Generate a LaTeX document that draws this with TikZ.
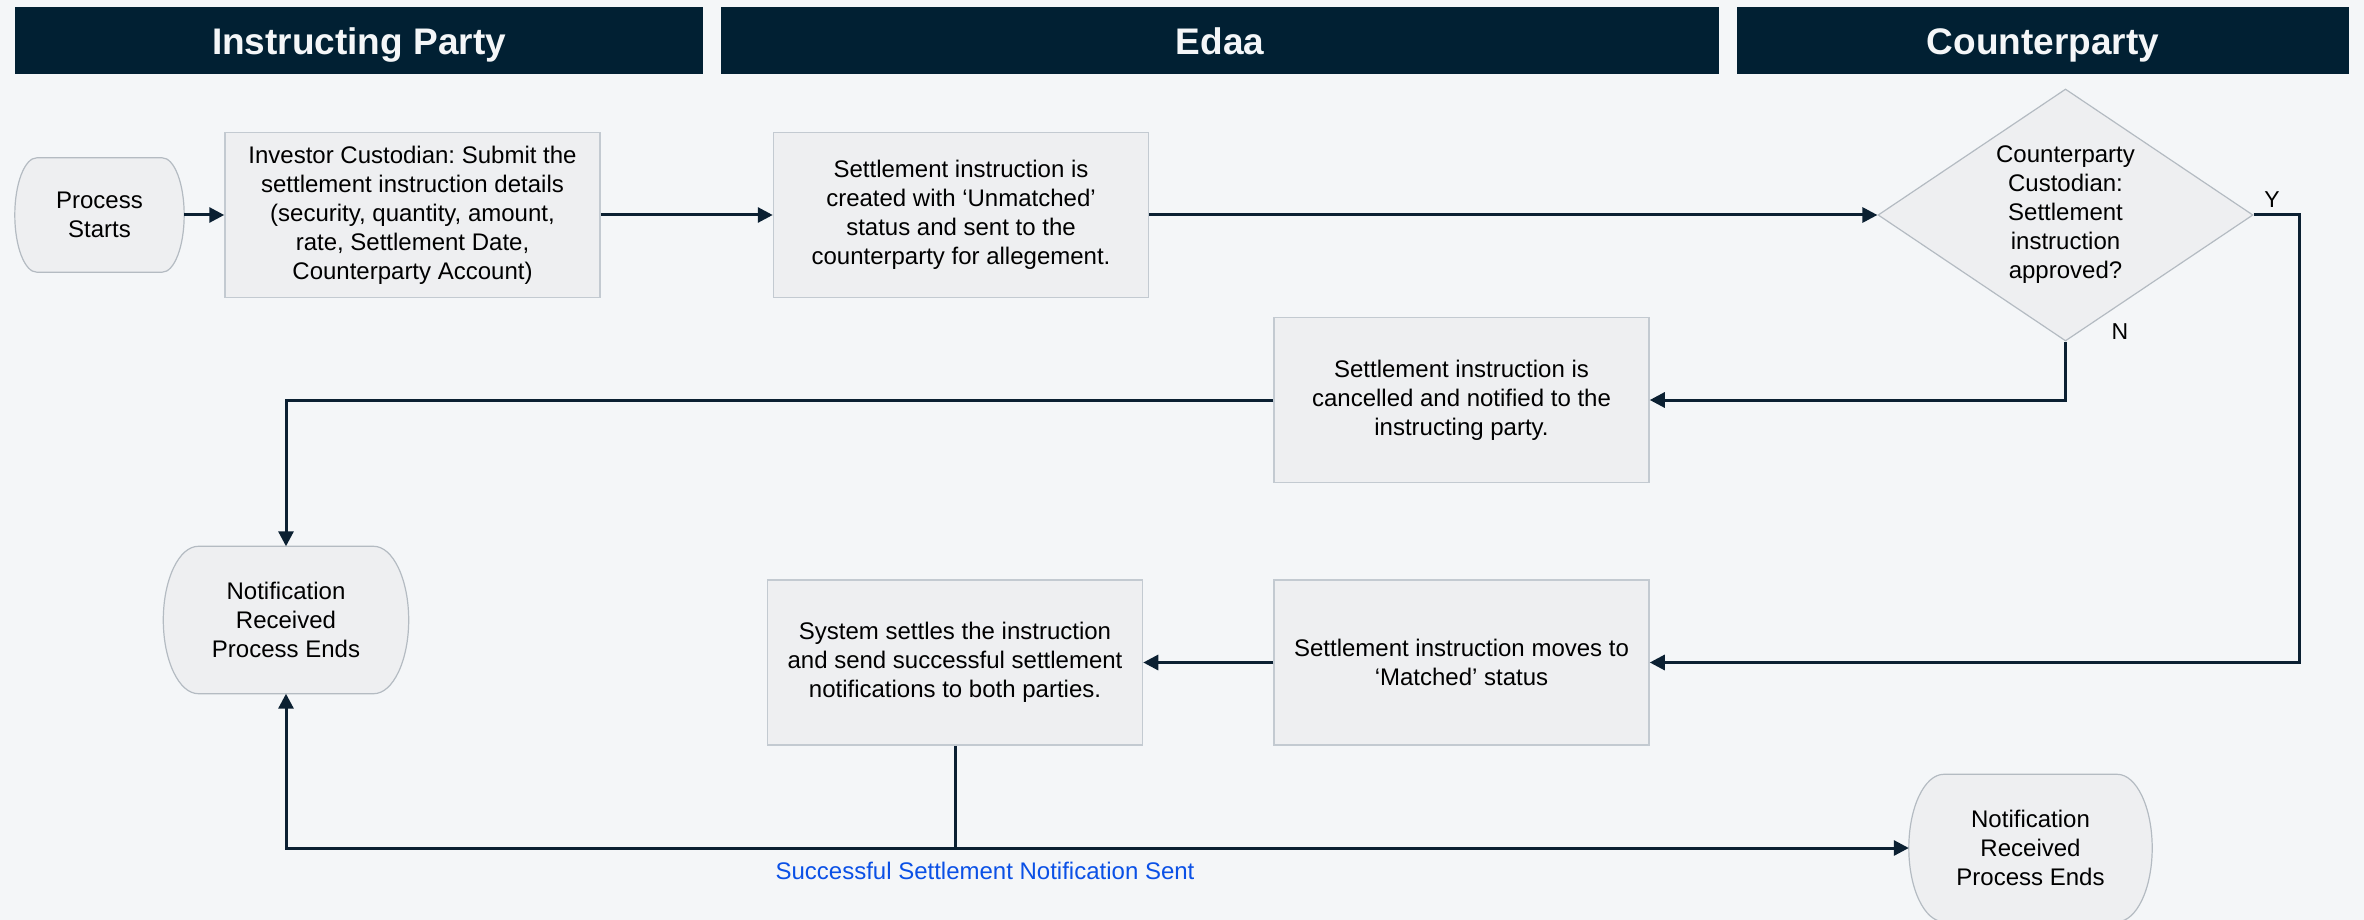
\documentclass[tikz,border=0pt]{standalone}
\usepackage{fontspec}
\setmainfont{Liberation Sans}
\usetikzlibrary{arrows.meta,shapes.geometric,calc}
\frenchspacing
\definecolor{bg}{HTML}{F4F6F8}
\definecolor{hdr}{HTML}{012033}
\definecolor{boxfill}{HTML}{EEEFF1}
\definecolor{boxline}{HTML}{C3CAD1}
\definecolor{termline}{HTML}{B4BBC2}
\definecolor{conncol}{HTML}{0B2032}
\definecolor{lblblue}{HTML}{0A50E6}
\tikzset{
 hdrbox/.style={fill=hdr, draw=none, minimum height=67pt, inner sep=0pt, text=bg,
   font=\fontsize{37}{44}\selectfont\bfseries, text height=26.5pt, text depth=0pt},
 procbox/.style={fill=boxfill, draw=boxline, line width=1.5pt, minimum width=375pt,
   minimum height=165pt, inner sep=0pt, align=center, font=\fontsize{24}{29}\selectfont\frenchspacing},
 termnode/.style={draw=none, inner sep=0pt},
 termshape/.style={fill=boxfill, draw=termline, line width=1.2pt},
 decision/.style={diamond, fill=boxfill, draw=termline, line width=1.2pt, inner sep=0pt,
   minimum width=375pt, minimum height=252pt},
 txt/.style={font=\fontsize{24}{29}\selectfont\frenchspacing, align=center},
 arr/.style={draw=conncol, line width=3pt, -{Triangle[length=15pt,width=15pt]}},
 plainconn/.style={draw=conncol, line width=3pt},
}
\newcommand\termpath[3]{%
  \path[termshape] ($(#1.north west)+(#2,0)$) -- ($(#1.north east)+(-#2,0)$)
   .. controls ($(#1.north east)+(-#2+0.552*#2,0)$) and ($(#1.east)+(0,-0.552*#3)$) .. (#1.east)
   .. controls ($(#1.east)+(0,0.552*#3)$) and ($(#1.south east)+(-#2+0.552*#2,0)$) .. ($(#1.south east)+(-#2,0)$)
   -- ($(#1.south west)+(#2,0)$)
   .. controls ($(#1.south west)+(#2-0.552*#2,0)$) and ($(#1.west)+(0,0.552*#3)$) .. (#1.west)
   .. controls ($(#1.west)+(0,-0.552*#3)$) and ($(#1.north west)+(#2-0.552*#2,0)$) .. ($(#1.north west)+(#2,0)$) -- cycle;
}
\begin{document}
\begin{tikzpicture}[x=1pt,y=-1pt]
\useasboundingbox (0,0) rectangle (2364,920);
\fill[bg] (0,0) rectangle (2364,920);
\clip (0,0) rectangle (2364,920);

\node[hdrbox, minimum width=688pt] (H1) at (359,41) {Instructing Party};
\node[hdrbox, minimum width=998pt] (H2) at (1220,41) {Edaa};
\node[hdrbox, minimum width=612pt] (H3) at (2043,41) {Counterparty};

\node[termnode, minimum width=169pt, minimum height=114pt] (PS) at (99.5,215) {};
\termpath{PS}{22}{57}
\node[txt] (PSt) at (PS) {Process\\Starts};

\node[procbox] (IC) at (412.5,215) {Investor Custodian: Submit the\\settlement instruction details\\(security, quantity, amount,\\rate, Settlement Date,\\Counterparty Account)};
\node[procbox] (CR) at (961,215) {Settlement instruction is\\created with ‘Unmatched’\\status and sent to the\\counterparty for allegement.};
\node[decision] (D) at (2065.5,215) {};
\node[txt] (Dt) at (D) {Counterparty\\Custodian:\\Settlement\\instruction\\approved?};
\node[procbox] (CN) at (1461.5,400) {Settlement instruction is\\cancelled and notified to the\\instructing party.};

\node[termnode, minimum width=245pt, minimum height=147pt] (NL) at (286,620) {};
\termpath{NL}{35}{73.5}
\node[txt] (NLt) at (NL) {Notification\\Received\\Process Ends};

\node[procbox] (SY) at (955,662.5) {System settles the instruction\\and send successful settlement\\notifications to both parties.};
\node[procbox] (MT) at (1461.5,662.5) {Settlement instruction moves to\\‘Matched’ status};

\node[termnode, minimum width=243pt, minimum height=147pt] (NR) at (2030.5,848) {};
\termpath{NR}{35}{73.5}
\node[txt] (NRt) at (NR) {Notification\\Received\\Process Ends};

\coordinate (YC) at (2299,215);
\coordinate (J) at (955,848);

\draw[arr] (PS.east) -- (IC.west);
\draw[arr] (IC.east) -- (CR.west);
\draw[arr] (CR.east) -- (D.west);
\draw[arr] (D.east) -- (YC) |- (MT.east);
\draw[arr] (D.south) |- (CN.east);
\draw[arr] (CN.west) -| (NL.north);
\draw[arr] (MT.west) -- (SY.east);
\draw[plainconn] (SY.south) -- (J);
\draw[arr] (J) -| (NL.south);
\draw[arr] (J) -- (NR.west);

\node[font=\fontsize{23}{28}\selectfont] (Ylbl) at (2272,200) {Y};
\node[font=\fontsize{23}{28}\selectfont] (Nlbl) at (2120,332) {N};
\node[font=\fontsize{24}{29}\selectfont, text=lblblue] (lbl) at (985,871) {Successful Settlement Notification Sent};
\end{tikzpicture}
\end{document}
